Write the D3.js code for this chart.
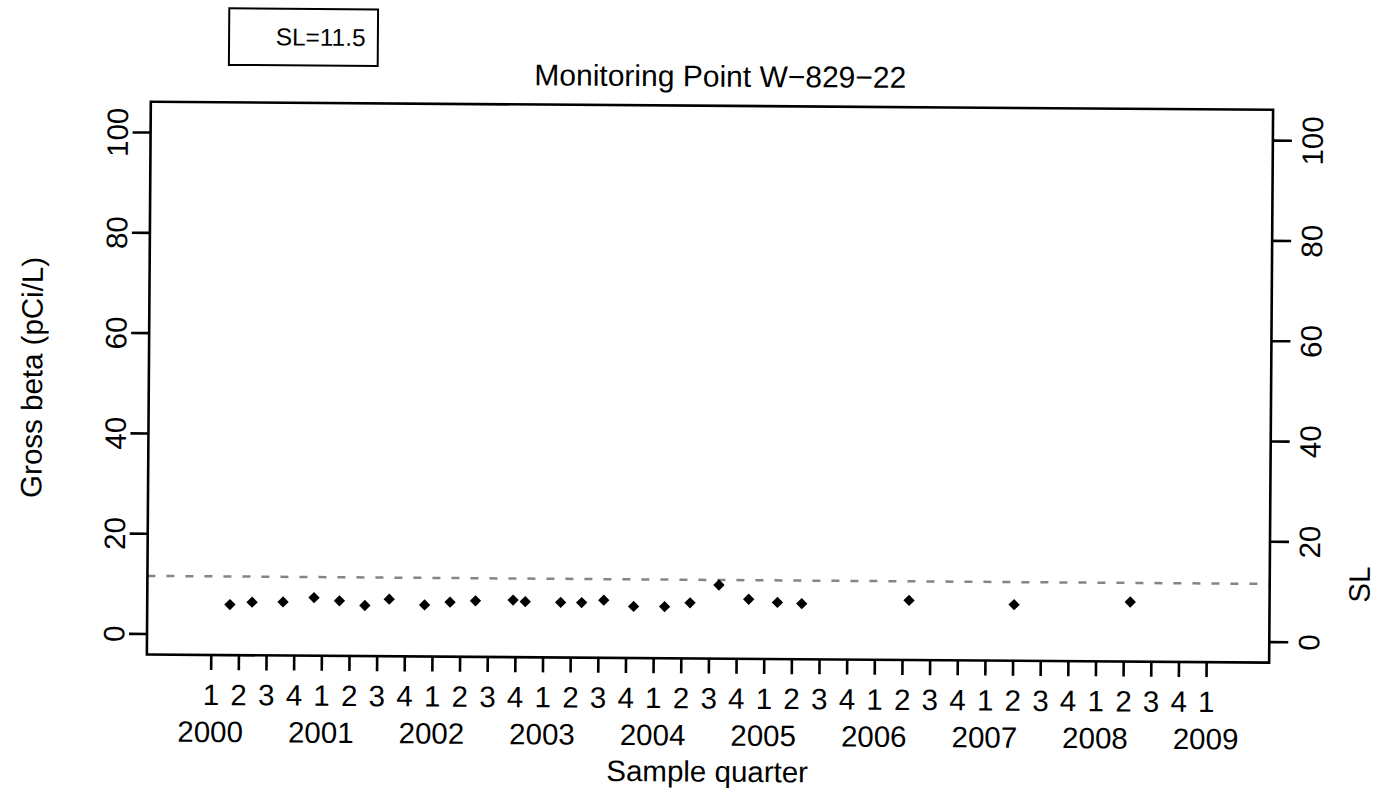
<!DOCTYPE html>
<html>
<head>
<meta charset="utf-8">
<script src="https://cdn.jsdelivr.net/npm/d3@7"></script>
<style>
body { margin: 0; background: #fff; }
text { font-family: "Liberation Sans", Arial, Helvetica, sans-serif; fill: #000; }
</style>
</head>
<body>
<svg id="chart" width="1388" height="803"></svg>
<script>
// sample dates (decimal years) and gross beta results, pCi/L
var sampleTime = [2000.17, 2000.37, 2000.65, 2000.93, 2001.16, 2001.39, 2001.61, 2001.93,
                  2002.16, 2002.39, 2002.73, 2002.84, 2003.16, 2003.35, 2003.55, 2003.82,
                  2004.10, 2004.33, 2004.59, 2004.86, 2005.12, 2005.34, 2006.31, 2007.26, 2008.31];
var grossBeta = [5.9, 6.4, 6.5, 7.4, 6.8, 5.9, 7.2, 6.1,
                 6.7, 7.0, 7.2, 6.9, 6.8, 6.8, 7.3, 6.1,
                 6.1, 6.9, 10.5, 7.7, 7.1, 6.9, 7.7, 7.0, 7.7];
var SL = 11.5;

var yearLabels = ["2000", "2001", "2002", "2003", "2004", "2005", "2006", "2007", "2008", "2009"];
var quarterLabels = ["1", "2", "3", "4"];
var yTicks = [0, 20, 40, 60, 80, 100];
var lastTick = 2009; // axis stops at 2009 Q1

var svg = d3.select("#chart");
svg.append("rect").attr("width", 1388).attr("height", 803).attr("fill", "#fff");

var box = {left: 148.7, right: 1271, top: 105.7, bottom: 658.5};

// the scanned figure sits a little skewed, so tilt everything the same way
var g = svg.append("g").attr("transform", "rotate(0.41,700,400)");

var x = d3.scaleLinear().domain([2000, 2009]).range([212.6, 1208]);
var y = d3.scaleLinear().domain([0, 100]).range([637.5, 136]);

var quarterTicks = [];
yearLabels.forEach(function(yr) {
  quarterLabels.forEach(function(q, j) {
    var t = +yr + j / 4;
    if (t <= lastTick) quarterTicks.push(t);
  });
});

// bottom axis: quarter numbers
var xAxis = d3.axisBottom(x)
    .tickValues(quarterTicks)
    .tickSize(15)
    .tickSizeOuter(0)
    .tickFormat(function(d) { return quarterLabels[Math.round((d - 2000) * 4) % 4]; });

var gx = g.append("g")
    .attr("transform", "translate(0," + box.bottom + ")")
    .call(xAxis);
gx.select(".domain").remove();
gx.attr("font-size", 29.5).attr("font-family", null);
gx.selectAll("line").attr("stroke-width", 2.6);
gx.selectAll("text").attr("y", 50).attr("dy", null);

g.append("g").selectAll("text")
    .data(yearLabels)
    .join("text")
    .attr("x", function(d) { return x(+d); })
    .attr("y", 745.5)
    .attr("text-anchor", "middle")
    .attr("font-size", 29.5)
    .text(function(d) { return d; });

// left axis
var gy = g.append("g")
    .attr("transform", "translate(" + box.left + ",0)")
    .call(d3.axisLeft(y).tickValues(yTicks).tickSize(18).tickSizeOuter(0));
gy.select(".domain").remove();
gy.attr("font-size", 29.5).attr("font-family", null);
gy.selectAll("line").attr("stroke-width", 2.6);
gy.selectAll("text")
    .attr("x", 0).attr("y", 0).attr("dy", null)
    .attr("text-anchor", "middle")
    .attr("transform", "translate(-22.7,0) rotate(-90)");

// right axis (SL)
var gr = g.append("g")
    .attr("transform", "translate(" + box.right + ",0)")
    .call(d3.axisRight(y).tickValues(yTicks).tickSize(19).tickSizeOuter(0));
gr.select(".domain").remove();
gr.attr("font-size", 29.5).attr("font-family", null);
gr.selectAll("line").attr("stroke-width", 2.6);
gr.selectAll("text")
    .attr("x", 0).attr("y", 0).attr("dy", null)
    .attr("text-anchor", "middle")
    .attr("transform", "translate(50,0) rotate(-90)");

// SL reference line
g.append("line")
    .attr("x1", box.left).attr("x2", box.right)
    .attr("y1", y(SL)).attr("y2", y(SL))
    .attr("stroke", "#858585")
    .attr("stroke-width", 2.5)
    .attr("stroke-dasharray", "8,11");

// plot frame
g.append("rect")
    .attr("x", box.left).attr("y", box.top)
    .attr("width", box.right - box.left)
    .attr("height", box.bottom - box.top)
    .attr("fill", "none")
    .attr("stroke", "#000")
    .attr("stroke-width", 2.6);

// sample points
g.append("g").selectAll("path")
    .data(sampleTime)
    .join("path")
    .attr("d", d3.symbol(d3.symbolSquare, 64))
    .attr("fill", "#000")
    .attr("transform", function(d, i) {
      return "translate(" + x(d) + "," + y(grossBeta[i]) + ") rotate(45)";
    });

// titles
g.append("text")
    .attr("x", 718).attr("y", 86.5)
    .attr("text-anchor", "middle")
    .attr("font-size", 30)
    .text("Monitoring Point W\u2212829\u221222");

g.append("text")
    .attr("x", (box.left + box.right) / 2).attr("y", 781.6)
    .attr("text-anchor", "middle")
    .attr("font-size", 29.5)
    .text("Sample quarter");

g.append("text")
    .attr("transform", "translate(42," + (box.top + box.bottom) / 2 + ") rotate(-90)")
    .attr("text-anchor", "middle")
    .attr("font-size", 29.5)
    .text("Gross beta (pCi/L)");

g.append("text")
    .attr("transform", "translate(1371," + y(SL) + ") rotate(-90)")
    .attr("text-anchor", "middle")
    .attr("font-size", 29.5)
    .text("SL");

// legend box
g.append("rect")
    .attr("x", 226.5).attr("y", 11.7)
    .attr("width", 148.8).attr("height", 56.6)
    .attr("fill", "none")
    .attr("stroke", "#000")
    .attr("stroke-width", 2);

g.append("text")
    .attr("x", 363).attr("y", 48.4)
    .attr("text-anchor", "end")
    .attr("font-size", 24.4)
    .text("SL=" + SL);
</script>
</body>
</html>
